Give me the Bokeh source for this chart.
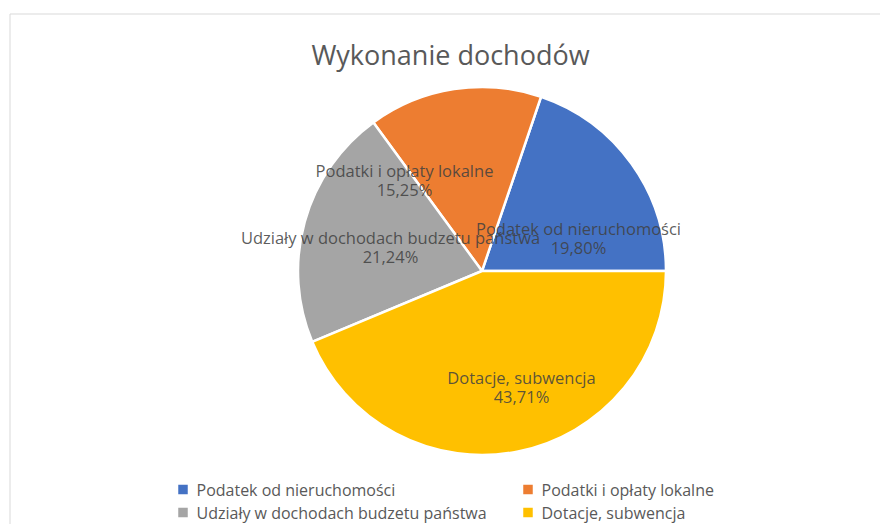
import math
from bokeh.plotting import figure
from bokeh.models import Range1d
from bokeh.core.properties import value
from bokeh.embed import file_html
from bokeh.resources import INLINE

# ---- data ----
categories = ["Podatek od nieruchomości", "Podatki i opłaty lokalne",
              "Udziały w dochodach budzetu państwa", "Dotacje, subwencja"]
shares = [19.80, 15.25, 21.24, 43.71]
colors = ["#4472C4", "#ED7D31", "#A5A5A5", "#FFC000"]
title_text = "Wykonanie dochodów"

# ---- layout (pixel space, y measured from top) ----
W, H = 880, 524
FONT = "Open Sans"
TXT = "#595959"
cx, cy_top, R = 481.5, 270.5, 184
# data label anchor points (pixel coords from top, middle of first line) – layout only
label_pos = [(578, 228), (404, 170), (390, 237), (521, 377)]
line_gap = 18.5

def Y(y_top):
    return H - y_top

p = figure(width=W, height=H, output_backend="svg", toolbar_location=None,
           x_range=Range1d(0, W), y_range=Range1d(0, H),
           min_border=0, outline_line_color=None)
p.axis.visible = False
p.grid.visible = False
p.background_fill_color = "white"
p.border_fill_color = "white"

# chart area border
p.quad(left=[9.5], right=[W + 20], bottom=[-20], top=[Y(13.5)],
       fill_color=None, line_color="#D9D9D9", line_width=1)

# wedges
total = sum(shares)
starts, ends = [], []
acc = 0.0
for v in shares:
    starts.append(2 * math.pi * acc / total)
    acc += v
    ends.append(2 * math.pi * acc / total)

p.wedge(x=[cx] * 4, y=[Y(cy_top)] * 4, radius=R,
        start_angle=starts, end_angle=ends, direction="anticlock",
        fill_color=colors, line_color="white", line_width=2.5)

# title
p.text(x=[450], y=[Y(54)], text=[title_text], text_font=value(FONT),
       text_font_size="27px", text_color=TXT, text_align="center",
       text_baseline="middle")

# data labels
FS = "16.5px"
pct = [f"{v:.2f}".replace(".", ",") + "%" for v in shares]
lx = [pt[0] for pt in label_pos]
ly1 = [Y(pt[1]) for pt in label_pos]
ly2 = [Y(pt[1] + line_gap) for pt in label_pos]
p.text(x=lx, y=ly1, text=categories, text_font=value(FONT),
       text_font_size=FS, text_color="#404040", text_align="center",
       text_baseline="middle", text_alpha=0.85)
p.text(x=lx, y=ly2, text=pct, text_font=value(FONT),
       text_font_size=FS, text_color="#404040", text_align="center",
       text_baseline="middle", text_alpha=0.85)

# legend (2 columns)
col_x = [178, 523]
row_y = [489, 512]
sq_x, sq_y, tx, ty = [], [], [], []
for i, name in enumerate(categories):
    c, r = i % 2, i // 2
    sq_x.append(col_x[c] + 4.5)
    sq_y.append(Y(row_y[r]))
    tx.append(col_x[c] + 18)
    ty.append(Y(row_y[r]))
p.scatter(x=sq_x, y=sq_y, marker="square", size=9.5, fill_color=colors,
          line_color=None)
p.text(x=tx, y=ty, text=categories, text_font=value(FONT),
       text_font_size="16px", text_color=TXT, text_align="left",
       text_baseline="middle")

open("out.html", "w").write(file_html(p, INLINE))
